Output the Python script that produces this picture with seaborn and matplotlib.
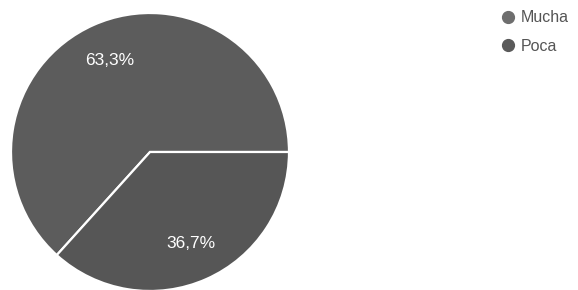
import matplotlib
matplotlib.use("Agg")
import matplotlib.pyplot as plt
from matplotlib.lines import Line2D
import numpy as np
import seaborn as sns

labels = ["Mucha", "Poca"]
values = [63.3, 36.7]
pct_labels = ["63,3%", "36,7%"]
colors = ["#5c5c5c", "#565656"]
legend_colors = ["#6e6e6e", "#5a5a5a"]

sns.set_theme(style="white")
plt.rcParams["font.family"] = ["Liberation Sans", "DejaVu Sans"]

fig = plt.figure(figsize=(5.78, 2.90), dpi=100)
ax = fig.add_axes([11 / 578, -1 / 290, 278 / 578, 278 / 290])

wedges, texts = ax.pie(
    values,
    colors=colors,
    startangle=0,
    counterclock=True,
    wedgeprops=dict(edgecolor="white", linewidth=1.6),
)
# percentage labels inside the slices
for w, txt in zip(wedges, pct_labels):
    ang = np.deg2rad((w.theta1 + w.theta2) / 2)
    ax.text(0.72 * np.cos(ang), 0.72 * np.sin(ang), txt, ha="center", va="center",
            color="white", fontsize=12.5)
ax.set_xlim(-1, 1)
ax.set_ylim(-1, 1)
ax.set_aspect("equal")
ax.axis("off")

handles = [Line2D([], [], marker="o", linestyle="", markersize=8.5,
                  markerfacecolor=c, markeredgecolor=c) for c in legend_colors]
fig.legend(handles, labels, loc="upper left", bbox_to_anchor=(490 / 578, 1.0),
           frameon=False, fontsize=11.5, labelcolor="#555555",
           handletextpad=0.3, labelspacing=0.85, borderaxespad=0.25,
           handlelength=1.0)

fig.savefig("out.png", dpi=100, facecolor="white")
